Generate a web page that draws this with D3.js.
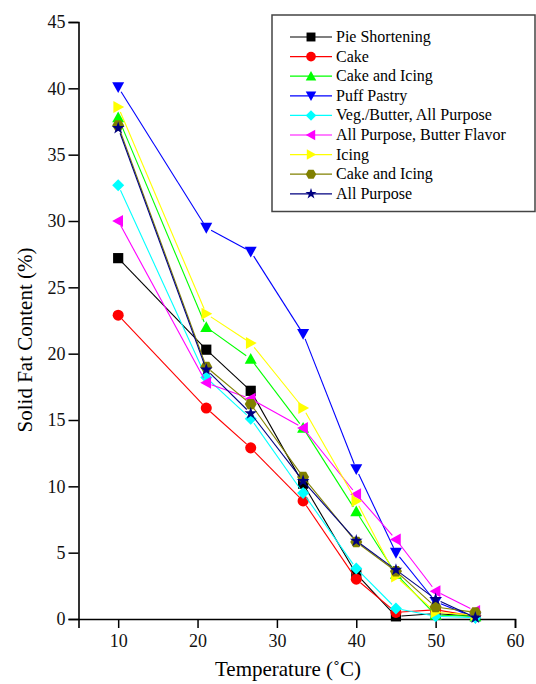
<!doctype html>
<html lang="en">
  <head>
    <meta charset="utf-8">
    <title>Solid Fat Content</title>
    <style>
      body { margin: 0; background: #fff; }
      svg text { font-family: "Liberation Serif", "Times New Roman", serif; }
    </style>
  </head>
  <body>
    <script src="https://d3js.org/d3.v7.min.js"></script>
    <script>
      // temperatures (C)
      var temps = [10, 21.1, 26.7, 33.3, 40, 45, 50, 55];

      var pieShortening = [27.2, 20.3, 17.2, 10.2, 3.4, 0.2, 0.4, 0.2];
      var cake = [22.9, 15.9, 12.9, 8.9, 3.0, 0.5, 0.7, 0.2];
      var cakeIcing = [37.8, 22.0, 19.6, 14.4, 8.1, 3.4, 0.3, 0.2];
      var puffPastry = [40.1, 29.5, 27.7, 21.5, 11.3, 5.0, 1.3, 0.1];
      var vegButter = [32.7, 18.2, 15.1, 9.5, 3.8, 0.8, 0.2, 0.1];
      var allPurposeButter = [30.0, 17.8, 16.6, 14.4, 9.4, 6.0, 2.1, 0.6];
      var icing = [38.6, 23.0, 20.8, 15.9, 8.9, 3.2, 0.5, 0.3];
      var cakeIcing2 = [37.2, 19.0, 16.2, 10.7, 5.8, 3.6, 0.9, 0.5];
      var allPurpose = [37.0, 18.8, 15.5, 10.4, 5.9, 3.7, 1.5, 0.1];

      var names = ['Pie Shortening', 'Cake', 'Cake and Icing', 'Puff Pastry',
        'Veg./Butter, All  Purpose', 'All Purpose, Butter Flavor', 'Icing',
        'Cake and Icing', 'All Purpose'];
      var values = [pieShortening, cake, cakeIcing, puffPastry, vegButter,
        allPurposeButter, icing, cakeIcing2, allPurpose];
      var colors = ['#000000', '#ff0000', '#00ff00', '#0000ff', '#00ffff',
        '#ff00ff', '#ffff00', '#808000', '#000080'];
      var shapes = ['square', 'circle', 'up', 'down', 'diamond', 'left', 'right', 'hex', 'star'];

      var yTicks = [0, 5, 10, 15, 20, 25, 30, 35, 40, 45];
      var xTicks = [10, 20, 30, 40, 50, 60];

      var width = 536, height = 684;
      var serif = '"Liberation Serif", "Times New Roman", serif';

      var x = d3.scaleLinear().domain([5, 60]).range([78.5, 515]);
      var y = d3.scaleLinear().domain([0, 45]).range([619, 22]);

      var svg = d3.select('body').append('svg')
          .attr('width', width)
          .attr('height', height)
          .attr('font-family', serif);

      // axes
      var ax = svg.append('g').attr('transform', 'translate(0,619)');
      ax.call(d3.axisBottom(x).tickValues(d3.range(15, 60, 10)).tickSize(5).tickFormat(''));
      ax.call(d3.axisBottom(x).tickValues(xTicks).tickSize(9).tickPadding(6).tickFormat(d3.format('d')));

      var ay = svg.append('g').attr('transform', 'translate(78.5,0)');
      ay.call(d3.axisLeft(y).tickValues(d3.range(2.5, 45, 5)).tickSize(5).tickFormat(''));
      ay.call(d3.axisLeft(y).tickValues(yTicks).tickSize(10).tickPadding(3).tickFormat(d3.format('d')));

      svg.selectAll('.domain').attr('stroke-width', 1.6).attr('stroke', '#000');
      svg.selectAll('.tick line').attr('stroke-width', 1.5);
      ax.attr('font-family', serif);
      ay.attr('font-family', serif);
      svg.selectAll('.tick text')
        .attr('font-family', serif)
        .style('font-size', '18px')
        .attr('fill', '#111');

      svg.append('text')
        .attr('x', 288).attr('y', 676)
        .attr('text-anchor', 'middle')
        .style('font-size', '21px')
        .text('Temperature (\u02DAC)');

      svg.append('text')
        .attr('transform', 'translate(32,340) rotate(-90)')
        .attr('text-anchor', 'middle')
        .style('font-size', '21px')
        .text('Solid Fat Content (%)');

      function markerPath(shape, s) {
        var r = s / 2;
        if (shape === 'square') return 'M' + (-r * 0.85) + ',' + (-r * 0.85) + 'h' + (1.7 * r) + 'v' + (1.7 * r) + 'h' + (-1.7 * r) + 'Z';
        if (shape === 'circle') return d3.symbol(d3.symbolCircle, Math.PI * r * r * 0.85)();
        if (shape === 'diamond') return 'M0,' + (-r) + 'L' + r + ',0L0,' + r + 'L' + (-r) + ',0Z';
        if (shape === 'up') return 'M0,' + (-r) + 'L' + r + ',' + (r * 0.8) + 'L' + (-r) + ',' + (r * 0.8) + 'Z';
        if (shape === 'down') return 'M0,' + r + 'L' + r + ',' + (-r * 0.8) + 'L' + (-r) + ',' + (-r * 0.8) + 'Z';
        if (shape === 'left') return 'M' + (-r) + ',0L' + (r * 0.8) + ',' + (-r) + 'L' + (r * 0.8) + ',' + r + 'Z';
        if (shape === 'right') return 'M' + r + ',0L' + (-r * 0.8) + ',' + (-r) + 'L' + (-r * 0.8) + ',' + r + 'Z';
        if (shape === 'hex') {
          var pts = d3.range(6).map(function(i) {
            var a = Math.PI / 3 * i;
            return [r * Math.cos(a), r * Math.sin(a)];
          });
          return 'M' + pts.join('L') + 'Z';
        }
        if (shape === 'star') return d3.symbol(d3.symbolStar, s * s * 0.35)();
      }

      var gap = 5.5;
      var plot = svg.append('g');

      values.forEach(function(vals, si) {
        var pts = vals.map(function(v, i) { return [x(temps[i]), y(v)]; });
        var g = plot.append('g');
        // segments stop short of the markers
        for (var i = 0; i < pts.length - 1; i++) {
          var a = pts[i], b = pts[i + 1];
          var dx = b[0] - a[0], dy = b[1] - a[1];
          var len = Math.sqrt(dx * dx + dy * dy);
          if (len <= gap * 2) continue;
          var ux = dx / len, uy = dy / len;
          g.append('line')
            .attr('x1', a[0] + ux * gap).attr('y1', a[1] + uy * gap)
            .attr('x2', b[0] - ux * gap).attr('y2', b[1] - uy * gap)
            .attr('stroke', colors[si])
            .attr('stroke-width', 1.1);
        }
        g.selectAll('path')
          .data(pts)
          .enter().append('path')
          .attr('transform', function(d) { return 'translate(' + d[0] + ',' + d[1] + ')'; })
          .attr('d', markerPath(shapes[si], 12))
          .attr('fill', colors[si]);
      });

      // legend
      var leg = svg.append('g');
      leg.append('rect')
        .attr('x', 272).attr('y', 15)
        .attr('width', 263).attr('height', 196.5)
        .attr('fill', 'none')
        .attr('stroke', '#444')
        .attr('stroke-width', 1.5);

      names.forEach(function(n, i) {
        var yy = 37 + i * 19.6;
        leg.append('line')
          .attr('x1', 290).attr('x2', 332)
          .attr('y1', yy).attr('y2', yy)
          .attr('stroke', colors[i])
          .attr('stroke-width', 1.2);
        leg.append('path')
          .attr('transform', 'translate(311,' + yy + ')')
          .attr('d', markerPath(shapes[i], 10.5))
          .attr('fill', colors[i]);
        leg.append('text')
          .attr('x', 336).attr('y', yy + 5)
          .style('font-size', '16px')
          .text(n);
      });
    </script>
  </body>
</html>
